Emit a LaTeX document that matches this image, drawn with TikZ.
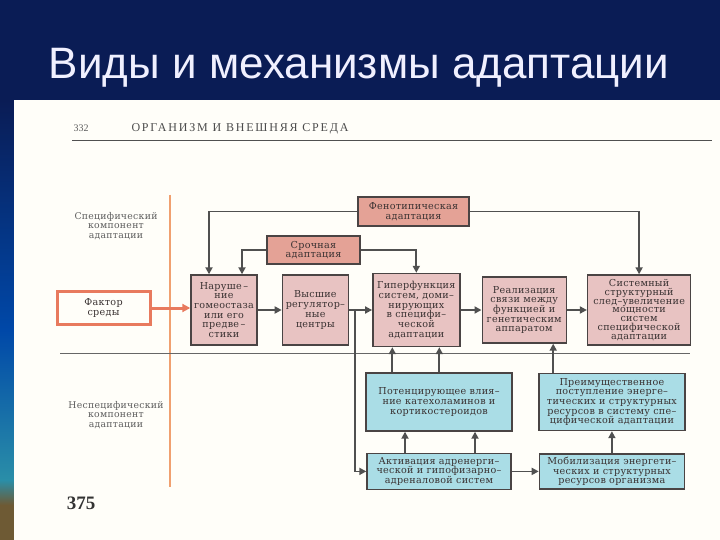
\documentclass[tikz,border=0pt]{standalone}
\usepackage{fontspec}
\setmainfont{Liberation Serif}
\newfontfamily\titlefont{Liberation Sans}
\newfontfamily\bookfont[LetterSpace=3]{DejaVu Serif}
\newfontfamily\headfont[LetterSpace=15]{Liberation Serif}
\usetikzlibrary{calc,positioning,arrows.meta}
\definecolor{mnavy}{HTML}{0A1C55}
\definecolor{mblueA}{HTML}{0048A8}
\definecolor{mteal}{HTML}{2A8EA8}
\definecolor{mbrown}{HTML}{6E5A34}
\definecolor{mpaper}{HTML}{FFFEF9}
\definecolor{mline}{HTML}{505050}
\definecolor{mframe}{HTML}{4A4444}
\definecolor{mtext}{HTML}{3A3232}
\definecolor{mgreytext}{HTML}{5E5E5E}
\definecolor{msalmon}{HTML}{E4A296}
\definecolor{mpink}{HTML}{E8C3C2}
\definecolor{mblue}{HTML}{AADDE6}
\definecolor{morange}{HTML}{E87A5E}
\definecolor{mamber}{HTML}{F0A070}
\tikzstyle{l1}=[line width=1.8, draw=mline, -{Triangle[length=7pt,width=7pt]}]
\tikzstyle{box}=[draw=mframe, line width=1.4, inner sep=0pt, align=center, text=mtext, font=\bookfont\fontsize{9.6}{9.7}\selectfont]
\tikzstyle{adapt}=[box, fill=msalmon]
\tikzstyle{stage}=[box, fill=mpink]
\tikzstyle{nonspec}=[box, fill=mblue]
\tikzstyle{factor}=[box, draw=morange, line width=3, fill=mpaper]
\tikzstyle{sidelabel}=[align=center, text=mgreytext, font=\bookfont\fontsize{9.3}{9.2}\selectfont]

\begin{document}
\begin{tikzpicture}[x=1pt, y=-1pt]

    \useasboundingbox (0,0) rectangle (720,540);

    % slide background
    \fill[mnavy] (0,0) rectangle (720,540);
    \shade[top color=mnavy, bottom color=mblueA] (0,100) rectangle (14,330);
    \shade[top color=mblueA, bottom color=mteal] (0,330) rectangle (14,480);
    \shade[top color=mteal, bottom color=mbrown] (0,480) rectangle (14,505);
    \fill[mbrown] (0,505) rectangle (14,540);
    \node (title) [anchor=base, text=white!94!blue, font=\titlefont\fontsize{44}{50}\selectfont] at (359,79) {Виды и механизмы адаптации};

    % page
    \fill[mpaper] (14,100) rectangle (720,540);
    \node (pnum) [text=mgreytext, font=\fontsize{10}{10}\selectfont] at (81,128) {332};
    \node (head) [text=black!70, font=\headfont\fontsize{12}{12}\selectfont] at (240,129) {ОРГАНИЗМ И ВНЕШНЯЯ СРЕДА};
    \draw[mline, line width=1] (72,141) -- (712,141);
    \node (pnum2) [text=black!80, font=\bfseries\fontsize{19}{20}\selectfont] at (81,503) {375};

    \draw[mamber, line width=1.5] (170,195) -- (170,487);
    \draw[black!60, line width=0.9] (60,353) -- (690,353);

    \node (spec) [sidelabel] at (116,226) {Специфический\\компонент\\адаптации};
    \node (nspec) [sidelabel] at (116,415) {Неспецифический\\компонент\\адаптации};

    \node (fac) [factor, minimum width=93, minimum height=33] at (103.5,308) {Фактор\\среды};

    \node (phen) [adapt, minimum width=111, minimum height=29] at (413.5,211.5) {Фенотипическая\\адаптация};
    \node (urg) [adapt, minimum width=93, minimum height=28] at (313.5,250) {Срочная\\адаптация};

    \node (hom) [stage, minimum width=66, minimum height=70] at (224,310) {Наруше\,–\\ние\\гомеостаза\\или его\\предве\,–\\стики};
    \node (reg) [stage, minimum width=66, minimum height=70, right=24pt of hom] {Высшие\\регулятор–\\ные\\центры};
    \node (hyp) [stage, minimum width=87, minimum height=73, right=23pt of reg] {Гиперфункция\\систем, доми–\\нирующих\\в специфи–\\ческой\\адаптации};
    \node (real) [stage, minimum width=84, minimum height=66, right=21pt of hyp] {Реализация\\связи между\\функцией и\\генетическим\\аппаратом};
    \node (sys) [stage, minimum width=103, minimum height=70, right=20pt of real, font=\bookfont\fontsize{9.6}{8.9}\selectfont] {Системный\\структурный\\след–увеличение\\мощности\\систем\\специфической\\адаптации};

    \node (pot) [nonspec, minimum width=146, minimum height=58] at (439,402) {Потенцирующее влия–\\ние катехоламинов и\\кортикостероидов};
    \node (act) [nonspec, minimum width=144, minimum height=36, below=21pt of pot] {Активация адренерги–\\ческой и гипофизарно–\\адреналовой систем};
    \node (mob) [nonspec, minimum width=145, minimum height=35, right=27pt of act] {Мобилизация энергети–\\ческих и структурных\\ресурсов организма};
    \node (pref) [nonspec, minimum width=146, minimum height=57, above=22pt of mob] {Преимущественное\\поступление энерге–\\тических и структурных\\ресурсов в систему спе–\\цифической адаптации};

    \draw[l1, draw=morange, line width=3, -{Triangle[length=8pt,width=8pt]}] (fac.east) -- (fac.east -| hom.west);

    \coordinate (hl) at ($(hom.north)+(-15,0)$);
    \coordinate (hr) at ($(hom.north)+(18,0)$);
    \draw[l1] (phen.west) -| (hl);
    \draw[l1] (phen.east) -| (sys.north);
    \draw[l1] (urg.west) -| (hr);
    \draw[l1] (urg.east) -| (hyp.north);

    \draw[l1] (hom.east) -- (reg.west);
    \draw[l1] (reg.east) -- (hyp.west);
    \draw[l1] (hyp.east) -- (real.west);
    \draw[l1] (real.east) -- (sys.west);

    \coordinate (br) at ($(reg.east)+(6,0)$);
    \draw[l1] (br) |- (act.west);

    \foreach \dx [count=\i] in {-24,23}{
            \coordinate (up\i) at ($(hyp.south)+(\dx,0)$);
            \draw[l1] (pot.north -| up\i) -- (up\i);
        }
    \foreach \dx [count=\i] in {-34,36}{
            \coordinate (lo\i) at ($(act.north)+(\dx,0)$);
            \draw[l1] (lo\i) -- (pot.south -| lo\i);
        }
    \draw[l1] (act.east) -- (mob.west);
    \draw[l1] (mob.north) -- (pref.south);
    \coordinate (rs) at ($(real.south)+(29,0)$);
    \draw[l1] (pref.north -| rs) -- (rs);

\end{tikzpicture}
\end{document}
